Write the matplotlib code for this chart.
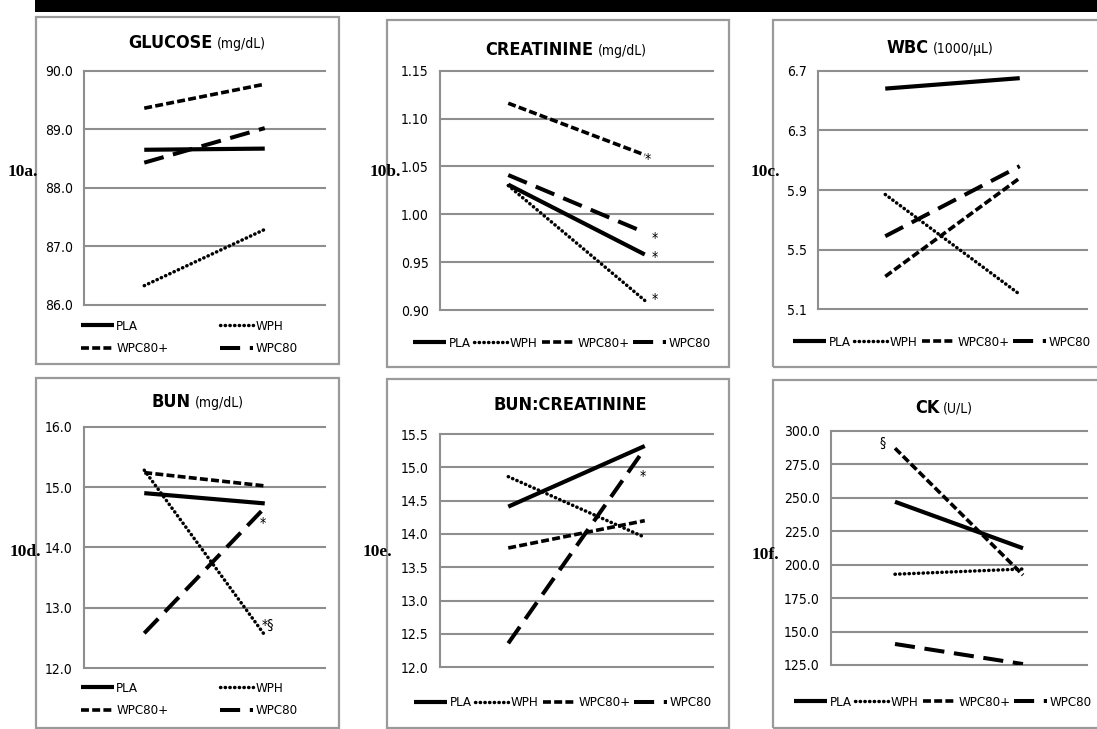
#!/usr/bin/env python3

import numpy as np
import matplotlib.pyplot as plt
from matplotlib.patches import Rectangle

# * Canvas size in pixels (dpi = 100).
W, H = 1097, 729

SANS = dict(family=['DejaVu Sans'], stretch='condensed')
SERIF = ['Liberation Serif', 'DejaVu Serif']
GRAY = '#8e8e8e'

# * Data: two time points per group, groups in legend order.
groups = ["PLA", "WPH", "WPC80+", "WPC80"]

glucose = [[88.65, 88.67], [86.33, 87.29], [89.36, 89.77], [88.43, 89.02]]
creatinine = [[1.031, 0.958], [1.030, 0.910], [1.116, 1.062], [1.041, 0.981]]
wbc = [[6.58, 6.65], [5.87, 5.20], [5.32, 5.98], [5.59, 6.06]]
bun = [[14.90, 14.73], [15.28, 12.55], [15.24, 15.02], [12.58, 14.66]]
bun_creat = [[14.41, 15.32], [14.86, 13.95], [13.79, 14.20], [12.36, 15.28]]
ck = [[246.9, 212.2], [192.8, 196.7], [286.9, 192.2], [140.7, 125.7]]

glucose_ticks = [86.0, 87.0, 88.0, 89.0, 90.0]
creatinine_ticks = [0.90, 0.95, 1.00, 1.05, 1.10, 1.15]
wbc_ticks = [5.1, 5.5, 5.9, 6.3, 6.7]
bun_ticks = [12.0, 13.0, 14.0, 15.0, 16.0]
bun_creat_ticks = [12.0, 12.5, 13.0, 13.5, 14.0, 14.5, 15.0, 15.5]
ck_ticks = [125.0, 150.0, 175.0, 200.0, 225.0, 250.0, 275.0, 300.0]

# Line styles of the four groups.
STYLES = {
    "PLA": dict(linestyle='-', linewidth=3.0, solid_capstyle='butt'),
    "WPH": dict(linestyle=(0, (0.1, 1.25)), linewidth=2.5, dash_capstyle='round'),
    "WPC80+": dict(linestyle=(0, (2.2, 0.9)), linewidth=2.6, dash_capstyle='butt'),
    "WPC80": dict(linestyle=(0, (5.0, 2.4)), linewidth=2.9, dash_capstyle='butt'),
}

fig = plt.figure(figsize=(W / 100, H / 100), dpi=100)


def fx(x):
    return x / W


def fy(y):
    return 1 - y / H


# Black band on top of the page.
fig.patches.append(Rectangle((fx(35), fy(12)), 1 - fx(35), 12 / H,
                             transform=fig.transFigure, color='black', lw=0))

titles = []


def panel(data, ticks, fmt, frame, plot, title, unit, tpos, label, lpos,
          legend_center, ncol, notes=()):
    x0, y0, x1, y1 = frame
    fig.patches.append(Rectangle((fx(x0), fy(y1)), (x1 - x0) / W, (y1 - y0) / H,
                                 transform=fig.transFigure, fill=False,
                                 ec='#9a9a9a', lw=1.6))
    l, t, r, b = plot
    ax = fig.add_axes([fx(l), fy(b), (r - l) / W, (b - t) / H])
    lines = {}
    for name, vals in zip(groups, data):
        lines[name], = ax.plot([0, 1], vals, color='black', label=name, **STYLES[name])
    ax.set_xlim(-0.5, 1.5)
    ax.set_ylim(ticks[0], ticks[-1])
    ax.set_yticks(ticks)
    ax.set_yticklabels([fmt % v for v in ticks], fontsize=10, **SANS)
    ax.set_xticks([])
    ax.tick_params(axis='y', length=0, pad=8)
    ax.yaxis.grid(True, color=GRAY, lw=1.5)
    ax.set_axisbelow(True)
    for g in ax.get_ygridlines():
        g.set_clip_on(False)
    for s in ('top', 'right', 'bottom'):
        ax.spines[s].set_visible(False)
    ax.spines['left'].set_color(GRAY)
    ax.spines['left'].set_linewidth(1.5)

    # Two-part title, centred later once widths are known.
    t1 = fig.text(fx(tpos[0]), fy(tpos[1]), title, fontsize=13,
                  fontweight='bold', ha='left', va='center', **SANS)
    t2 = None
    if unit:
        t2 = fig.text(fx(tpos[0]), fy(tpos[1]) - 0.001, unit, fontsize=10,
                      ha='left', va='center', **SANS)
    titles.append((t1, t2, tpos[0]))

    fig.text(fx(lpos[0]), fy(lpos[1]), label, family=SERIF, fontsize=12.5,
             fontweight='bold', ha='center', va='center')

    # Row-major order for the two-column legends.
    order = groups if ncol == 4 else ["PLA", "WPC80+", "WPH", "WPC80"]
    ax.legend([lines[n] for n in order], order, loc='center', ncol=ncol, frameon=False,
              bbox_to_anchor=(fx(legend_center[0]), fy(legend_center[1])),
              bbox_transform=fig.transFigure,
              prop=dict(size=9.5, **SANS),
              handlelength=2.5, handletextpad=0.2, borderpad=0,
              columnspacing=0.3 if ncol == 4 else 3.9, labelspacing=0.7)

    for text, gi, dx, dy in notes:
        ax.annotate(text, xy=(gi[1], data[gi[0]][gi[1]]), xytext=(dx, dy),
                    textcoords='offset pixels', ha='center', va='center',
                    fontsize=10, **SANS)
    return ax


panel(glucose, glucose_ticks, '%.1f', (36, 17, 339, 364), (84, 70.7, 325, 305),
      'GLUCOSE', '(mg/dL)', (197, 43), '10a.', (23, 172), (189, 337.5), 2)

panel(creatinine, creatinine_ticks, '%.2f', (387, 20, 729, 367), (440, 70.7, 713, 310),
      'CREATININE', '(mg/dL)', (566, 50), '10b.', (385, 172), (562, 343), 4,
      notes=[('*', (2, 1), 3, -4), ('*', (3, 1), 10, -6),
             ('*', (0, 1), 10, -3), ('*', (1, 1), 10, 1)])

panel(wbc, wbc_ticks, '%.1f', (773, 20, 1110, 367), (818, 70.7, 1087, 309.3),
      'WBC', '(1000/\u00b5L)', (940, 48), '10c.', (765, 172), (942, 342), 4)

panel(bun, bun_ticks, '%.1f', (36, 378, 339, 728), (84, 426.7, 325, 668.3),
      'BUN', '(mg/dL)', (198, 402), '10d.', (25, 552), (189, 699.5), 2,
      notes=[('*', (3, 1), -2, -15), ('*\u00a7', (1, 1), 3, 10)])

panel(bun_creat, bun_creat_ticks, '%.1f', (387, 379, 729, 728), (440, 434, 713, 667.3),
      'BUN:CREATININE', '', (570, 405), '10e.', (377, 552), (563, 703), 4,
      notes=[('*', (3, 1), -2, -27)])

panel(ck, ck_ticks, '%.1f', (773, 380, 1110, 728), (831, 430.7, 1087, 665),
      'CK', '(U/L)', (944, 408), '10f.', (765, 555), (943, 702), 4,
      notes=[('\u00a7', (2, 0), -12, 5)])

# Centre the two-part titles.
fig.canvas.draw()
renderer = fig.canvas.get_renderer()
gap = 4
for t1, t2, cx in titles:
    w1 = t1.get_window_extent(renderer).width
    w2 = t2.get_window_extent(renderer).width if t2 is not None else 0
    total = w1 + (gap + w2 if t2 is not None else 0)
    start = cx - total / 2
    t1.set_x(fx(start))
    if t2 is not None:
        t2.set_x(fx(start + w1 + gap))

fig.savefig('out.png', dpi=100)
